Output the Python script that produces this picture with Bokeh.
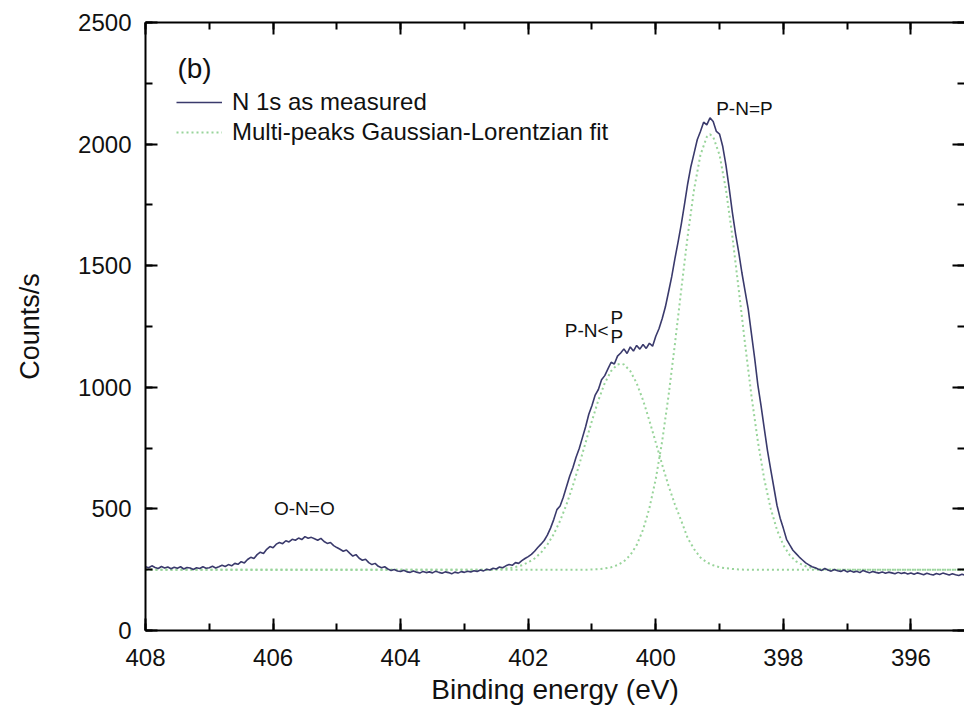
import numpy as np
from bokeh.plotting import figure
from bokeh.models import (Range1d, LinearAxis, SingleIntervalTicker, Legend, LegendItem,
                          ColumnDataSource, Label, CustomJSTickFormatter)
from bokeh.embed import file_html
from bokeh.resources import INLINE

# ---------------- data ----------------
energy_start = 408.0
energy_step = 0.05
measured_counts = [
    262, 258, 266, 259, 255, 263, 257, 261, 254, 260,
    256, 262, 253, 259, 257, 251, 258, 255, 262, 256,
    258, 264, 257, 262, 268, 263, 271, 266, 276, 272,
    283, 278, 292, 301, 296, 312, 322, 317, 334, 345,
    340, 355, 362, 357, 369, 364, 375, 371, 380, 374,
    386, 379, 383, 377, 371, 379, 366, 358, 362, 349,
    341, 334, 326, 331, 318, 306, 312, 297, 289, 293,
    279, 271, 276, 264, 258, 262, 253, 247, 251, 245,
    243, 248, 241, 239, 245, 240, 236, 243, 238, 241,
    237, 244, 239, 235, 241, 238, 233, 240, 236, 242,
    239, 244, 241, 246, 243, 249, 245, 252, 249, 256,
    253, 261, 258, 266, 271, 268, 279, 276, 287, 296,
    304, 313, 326, 341, 355, 370, 392, 421, 456, 497,
    512, 548, 591, 634, 669, 712, 748, 793, 838, 889,
    925, 968, 991, 1031, 1048, 1076, 1103, 1096, 1128, 1141,
    1158, 1139, 1166, 1149, 1172, 1157, 1176, 1160, 1181, 1169,
    1210, 1241, 1282, 1330, 1392, 1455, 1529, 1598, 1671, 1752,
    1836, 1907, 1962, 2018, 2052, 2090, 2079, 2108, 2093, 2052,
    2041, 1990, 1914, 1820, 1720, 1632, 1556, 1471, 1395, 1320,
    1220, 1120, 1010, 925, 832, 742, 665, 590, 515, 462,
    420, 375, 352, 330, 316, 302, 290, 278, 270, 262,
    258, 252, 247, 255, 249, 244, 251, 246, 243, 249,
    241, 246, 240, 244, 238, 247, 242, 237, 243, 239,
    236, 241, 235, 240, 237, 233, 239, 234, 238, 232,
    236, 231, 237, 233, 229, 235, 231, 228, 234, 230,
    236, 232, 228, 233, 229, 226, 231, 227, 224,
]
measured_energy = [round(energy_start - energy_step * i, 2) for i in range(len(measured_counts))]

# fit component P-N=P
fit_pnp_energy = [408.0,
    401.2, 401.1, 401.0, 400.9, 400.8, 400.7, 400.6, 400.5, 400.4, 400.3, 400.2,
    400.1, 400.0, 399.9, 399.8, 399.7, 399.6, 399.5, 399.4, 399.3, 399.2,
    399.15,
    399.1, 399.0, 398.9, 398.8, 398.7, 398.6, 398.5, 398.4, 398.3, 398.2, 398.1,
    398.0, 397.9, 397.8, 397.7, 397.6, 397.5, 397.4, 397.3, 397.2, 397.1,
    395.1]
fit_pnp_counts = [250,
    250, 250, 251, 252, 255, 260, 269, 284, 310, 351, 414,
    503, 623, 778, 965, 1178, 1403, 1622, 1813, 1955, 2030,
    2040,
    2030, 1955, 1813, 1622, 1403, 1178, 965, 778, 623, 503, 414,
    351, 310, 284, 269, 260, 255, 252, 251, 250, 250,
    250]

# fit component P-N<P2
fit_pnpp_energy = [408.0,
    402.6, 402.5, 402.4, 402.3, 402.2, 402.1, 402.0, 401.9, 401.8, 401.7, 401.6,
    401.5, 401.4, 401.3, 401.2, 401.1, 401.0, 400.9, 400.8, 400.7, 400.6,
    400.55,
    400.5, 400.4, 400.3, 400.2, 400.1, 400.0, 399.9, 399.8, 399.7, 399.6, 399.5,
    399.4, 399.3, 399.2, 399.1, 399.0, 398.9, 398.8, 398.7, 398.6, 398.5,
    395.1]
fit_pnpp_counts = [250,
    250, 252, 254, 256, 261, 268, 280, 296, 320, 353, 396,
    451, 518, 595, 682, 773, 863, 947, 1017, 1067, 1094,
    1097,
    1094, 1067, 1017, 947, 863, 773, 682, 595, 518, 451, 380,
    335, 300, 280, 268, 260, 256, 253, 251, 250, 250,
    250]

x_ticks_interval = 2
y_ticks_interval = 500

# annotation texts and their data positions
peak_labels = ["O-N=O", "P-N=P"]
peak_label_x = [405.51, 398.61]
peak_label_y = [502, 2146]

FONT = "Liberation Sans"

p = figure(frame_width=819, frame_height=608,
           x_range=Range1d(408, 395.16), y_range=Range1d(0, 2500),
           output_backend="svg", toolbar_location=None,
           min_border_left=145, min_border_top=22, min_border_bottom=82, min_border_right=0)
p.outline_line_color = None
p.xgrid.visible = False
p.ygrid.visible = False
p.background_fill_color = "white"
p.border_fill_color = "white"

def style_axis(ax, labels=True):
    ax.axis_line_width = 2
    ax.axis_line_color = "black"
    ax.major_tick_line_width = 2
    ax.minor_tick_line_width = 2
    ax.major_tick_in = 12
    ax.major_tick_out = 0
    ax.minor_tick_in = 7
    ax.minor_tick_out = 0
    ax.major_label_text_font = FONT
    ax.axis_label_text_font = FONT
    ax.axis_label_text_font_style = "normal"
    if labels:
        ax.major_label_text_font_size = "24px"
        ax.major_label_text_color = "#111111"
        ax.axis_label_text_color = "#111111"
    else:
        ax.formatter = CustomJSTickFormatter(code="return ''")
        ax.major_label_text_font_size = "2px"
        ax.major_label_standoff = 0

xb = p.xaxis[0]
xb.ticker = SingleIntervalTicker(interval=x_ticks_interval, num_minor_ticks=2)
xb.axis_label = "Binding energy (eV)"
style_axis(xb)
xb.axis_label_text_font_size = "28px"
xb.major_label_standoff = 18
xb.axis_label_standoff = 5

yl = p.yaxis[0]
yl.ticker = SingleIntervalTicker(interval=y_ticks_interval, num_minor_ticks=2)
yl.axis_label = "Counts/s"
style_axis(yl)
yl.axis_label_text_font_size = "27px"
yl.major_label_standoff = 14
yl.axis_label_standoff = 30

top = LinearAxis(ticker=SingleIntervalTicker(interval=x_ticks_interval, num_minor_ticks=2))
style_axis(top, labels=False)
p.add_layout(top, "above")

right = LinearAxis(ticker=SingleIntervalTicker(interval=y_ticks_interval, num_minor_ticks=2))
style_axis(right, labels=False)
right.axis_line_color = None
p.add_layout(right, "right")

src_meas = ColumnDataSource(dict(x=measured_energy, y=measured_counts))
src_f1 = ColumnDataSource(dict(x=fit_pnp_energy, y=fit_pnp_counts))
src_f2 = ColumnDataSource(dict(x=fit_pnpp_energy, y=fit_pnpp_counts))

fit_color = "#98d49a"
r_f2 = p.line("x", "y", source=src_f2, line_color=fit_color, line_width=2, line_dash="2 3")
r_f1 = p.line("x", "y", source=src_f1, line_color=fit_color, line_width=2, line_dash="2 3")
r_meas = p.line("x", "y", source=src_meas, line_color="#3a3a6c", line_width=1.6)

legend = Legend(items=[LegendItem(label="N 1s as measured", renderers=[r_meas]),
                       LegendItem(label="Multi-peaks Gaussian-Lorentzian fit", renderers=[r_f1])],
                location=(31, 483), orientation="vertical")
legend.border_line_color = None
legend.background_fill_alpha = 0
legend.padding = 0
legend.margin = 0
legend.spacing = 0
legend.glyph_width = 46
legend.glyph_height = 30
legend.label_height = 30
legend.label_standoff = 10
legend.label_text_font = FONT
legend.label_text_font_size = "24px"
legend.label_text_color = "#111111"
p.add_layout(legend)

p.add_layout(Label(x=407.5, y=2311, text="(b)", text_font=FONT, text_font_size="28px",
                   text_baseline="middle", text_align="left", text_color="#111111"))
for t, lx, ly in zip(peak_labels, peak_label_x, peak_label_y):
    p.add_layout(Label(x=lx, y=ly, text=t, text_font=FONT, text_font_size="19px",
                       text_baseline="middle", text_align="center", text_color="#111111"))
# P-N<(P over P) label
p.add_layout(Label(x=400.74, y=1234, text="P-N<", text_font=FONT, text_font_size="19px",
                   text_baseline="middle", text_align="right", text_color="#111111"))
p.add_layout(Label(x=400.71, y=1287, text="P", text_font=FONT, text_font_size="19px",
                   text_baseline="middle", text_align="left", text_color="#111111"))
p.add_layout(Label(x=400.71, y=1209, text="P", text_font=FONT, text_font_size="19px",
                   text_baseline="middle", text_align="left", text_color="#111111"))

open("out.html", "w").write(file_html(p, INLINE))
